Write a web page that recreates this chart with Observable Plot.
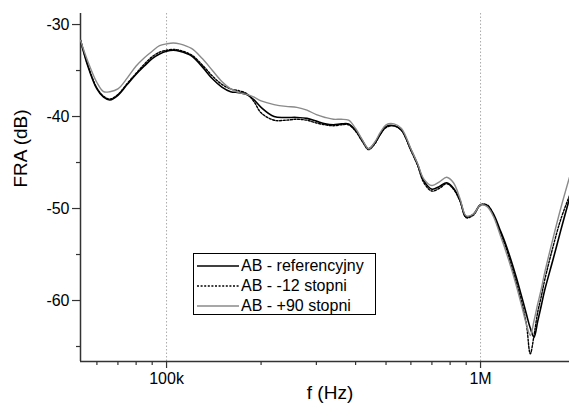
<!DOCTYPE html>
<html><head><meta charset="utf-8">
<script src="https://cdn.jsdelivr.net/npm/d3@7"></script>
<script src="https://cdn.jsdelivr.net/npm/@observablehq/plot@0.6"></script>
<style>
body{margin:0;background:#fff;font-family:"Liberation Sans",Arial,sans-serif}
#wrap{position:relative;width:569px;height:416px;overflow:hidden;background:#fff}
#legend{position:absolute;left:193px;top:253px;width:183px;height:62px;border:1px solid #000;background:#fff;box-sizing:border-box;font-size:16px;color:#000}
#legend .row{position:absolute;left:0;height:20px;width:100%}
#legend svg{position:absolute;left:3px;top:0}
#legend span{position:absolute;left:47px;top:1px;line-height:18px;white-space:nowrap}
</style>
</head><body>
<div id="wrap"><div id="chart"></div><div id="legend"></div></div>
<script>
// frequencies in kHz
const freqKHz = [53.2,56,60,63,66,70,75,80,85,90,95,100,105,110,120,130,140,150,160,170,180,190,200,220,240,260,280,300,320,340,360,380,400,420,440,460,480,500,530,560,600,630,660,700,740,780,820,860,900,950,1000,1050,1100,1150,1200,1250,1300,1350,1400,1440,1480,1520,1560,1600,1700,1800,1920];
const seriesNames = ["AB - referencyjny", "AB - -12 stopni", "AB - +90 stopni"];
const refValues = [-31.7,-34.4,-37.0,-37.9,-38.2,-37.7,-36.5,-35.4,-34.5,-33.7,-33.2,-32.9,-32.8,-32.9,-33.4,-34.6,-35.9,-36.8,-37.3,-37.4,-37.6,-38.2,-39.0,-40.0,-40.1,-40.1,-40.2,-40.5,-40.8,-40.9,-40.8,-40.8,-41.5,-42.6,-43.5,-42.9,-41.9,-41.1,-41.0,-41.5,-43.6,-45.2,-47.0,-47.9,-47.6,-47.2,-47.8,-49.1,-50.9,-50.6,-49.6,-49.7,-50.6,-52.2,-53.8,-55.6,-57.5,-59.5,-61.5,-63.0,-64.0,-62.3,-60.6,-58.9,-55.6,-52.4,-48.9];
const m12Values = [-31.7,-34.3,-36.9,-37.8,-38.1,-37.6,-36.4,-35.3,-34.3,-33.5,-33.0,-32.8,-32.7,-32.8,-33.3,-34.4,-35.6,-36.5,-37.0,-37.2,-37.5,-38.4,-39.6,-40.4,-40.4,-40.3,-40.4,-40.7,-40.9,-41.0,-40.9,-40.9,-41.6,-42.7,-43.6,-43.0,-41.9,-41.2,-41.0,-41.5,-43.7,-45.3,-47.2,-48.1,-47.8,-47.3,-47.9,-49.2,-51.0,-50.7,-49.6,-49.6,-50.7,-52.4,-54.1,-56.0,-58.0,-60.1,-62.6,-65.8,-63.8,-61.3,-59.6,-57.8,-54.2,-51.2,-48.6];
const p90Values = [-31.7,-33.9,-36.3,-37.3,-37.3,-37.0,-35.8,-34.5,-33.6,-32.9,-32.3,-32.1,-32.0,-32.1,-32.6,-33.7,-35.0,-36.2,-37.0,-37.4,-37.6,-37.9,-38.3,-38.7,-38.9,-39.0,-39.3,-39.8,-40.1,-40.3,-40.3,-40.4,-41.3,-42.5,-43.5,-42.8,-41.7,-40.9,-40.8,-41.3,-43.5,-45.1,-46.8,-47.5,-47.1,-46.6,-47.2,-48.9,-50.8,-50.6,-49.6,-49.8,-50.9,-52.7,-54.5,-56.4,-58.4,-60.5,-62.6,-63.8,-62.2,-60.4,-58.8,-57.0,-53.3,-50.0,-46.6];
const yMajorTicks = [-30,-40,-50,-60];
const yMinorTicks = [-35,-45,-55,-65];
const xMajorTicks = [1e5, 1e6];
const xMajorLabels = ["100k", "1M"];
const xMinorTicks = [6e4,7e4,8e4,9e4,2e5,3e5,4e5,5e5,6e5,7e5,8e5,9e5];
const gridFreqs = [1e5, 1e6];
const xDomain = [53200, 1920000];
const yDomain = [-66.63, -28.8];
const xLabel = "f (Hz)", yLabel = "FRA (dB)";

const toRows = (vals) => freqKHz.map((f, i) => ({f: f * 1000, v: vals[i]}));
const styles = [
  {stroke: "#000", strokeWidth: 1.6, dash: null},
  {stroke: "#000", strokeWidth: 1.4, dash: "2,1.6"},
  {stroke: "#8a8a8a", strokeWidth: 1.4, dash: null}
];
const data = [refValues, m12Values, p90Values].map(toRows);
const lineMark = (k) => Plot.line(data[k], {x: "f", y: "v", curve: "catmull-rom", stroke: styles[k].stroke, strokeWidth: styles[k].strokeWidth, strokeDasharray: styles[k].dash, clip: true});

const font = "'Liberation Sans', Arial, sans-serif";
const chart = Plot.plot({
  width: 569, height: 416,
  marginLeft: 80, marginRight: 0, marginTop: 13, marginBottom: 55,
  x: {type: "log", domain: xDomain},
  y: {domain: yDomain},
  style: {fontFamily: font, fontSize: "16px", color: "#000", background: "#fff"},
  marks: [
    Plot.ruleX(gridFreqs, {stroke: "#aaa", strokeDasharray: "1.5,2", strokeWidth: 1}),
    Plot.axisY(yMajorTicks, {tickSize: 8, tickPadding: 3, tickFormat: d => String(d), fontSize: 16, stroke: "#333", strokeWidth: 1.2, label: null}),
    Plot.axisY(yMinorTicks, {tickSize: 4, tickFormat: () => "", stroke: "#333", strokeWidth: 1.2, label: null}),
    Plot.axisX(xMajorTicks, {tickSize: 7, tickPadding: 4, tickFormat: d => xMajorLabels[xMajorTicks.indexOf(d)], fontSize: 16, stroke: "#333", strokeWidth: 1.2, label: null}),
    Plot.axisX(xMinorTicks, {tickSize: 4, tickFormat: () => "", stroke: "#333", strokeWidth: 1.2, label: null}),
    Plot.ruleX([xDomain[0]], {stroke: "#333", strokeWidth: 1.5}),
    Plot.ruleY([yDomain[0]], {stroke: "#333", strokeWidth: 1.5}),
    lineMark(0), lineMark(1), lineMark(2),
    Plot.text([xLabel], {frameAnchor: "bottom", dy: 37, dx: 5, fontSize: 19}),
    Plot.text([yLabel], {frameAnchor: "left", rotate: -90, dx: -60, fontSize: 19})
  ]
});
document.getElementById("chart").appendChild(chart);

const legend = document.getElementById("legend");
seriesNames.forEach((name, k) => {
  const row = document.createElement("div");
  row.className = "row";
  row.style.top = (2 + k * 20) + "px";
  const s = styles[k];
  row.innerHTML = `<svg width="42" height="20"><line x1="0" y1="10" x2="42" y2="10" stroke="${s.stroke}" stroke-width="${s.strokeWidth}" ${s.dash ? `stroke-dasharray="${s.dash}"` : ""}/></svg><span></span>`;
  row.querySelector("span").textContent = name;
  legend.appendChild(row);
});
</script>
</body></html>
